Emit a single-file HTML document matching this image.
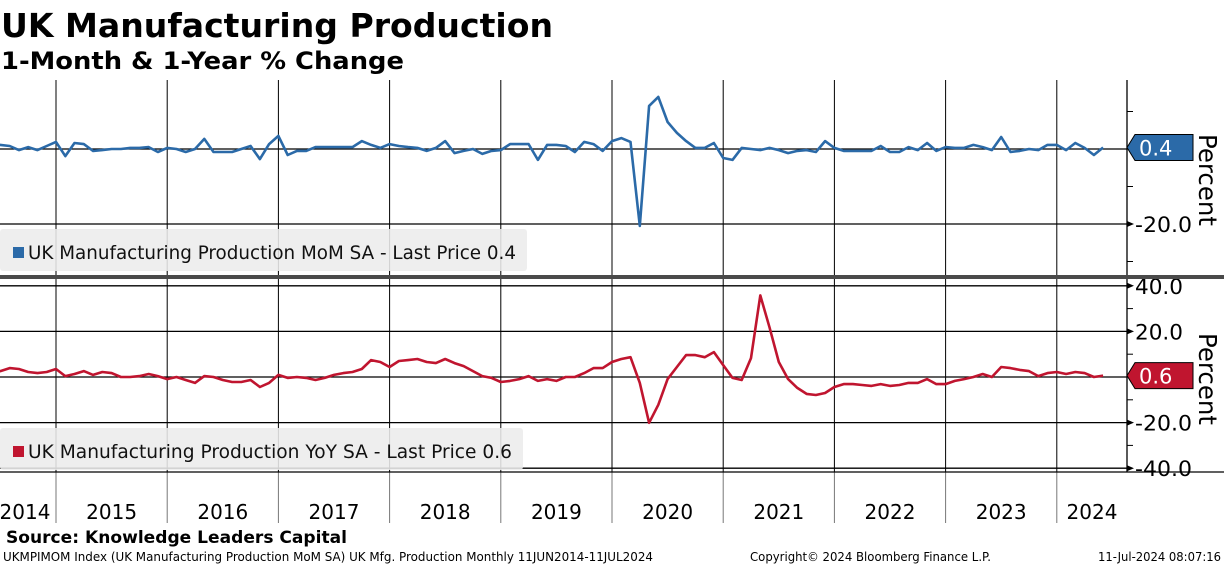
<!DOCTYPE html>
<html><head><meta charset="utf-8">
<style>
html,body{margin:0;padding:0;background:#fff;}
svg{display:block;font-family:"DejaVu Sans","Liberation Sans",sans-serif;}
</style></head>
<body>
<svg id="chart" width="1224" height="566" viewBox="0 0 1224 566" xmlns="http://www.w3.org/2000/svg">
<text x="1" y="37" font-size="33" font-weight="bold" fill="#000" textLength="552" lengthAdjust="spacingAndGlyphs">UK Manufacturing Production</text>
<text x="1" y="69" font-size="24" font-weight="bold" fill="#000" textLength="403" lengthAdjust="spacingAndGlyphs">1-Month &amp; 1-Year % Change</text>
<g id="grid"></g>
<g id="series"></g>
<g id="overlay"></g>
<text x="6" y="543" font-size="17" font-weight="bold" fill="#000" textLength="341" lengthAdjust="spacingAndGlyphs">Source: Knowledge Leaders Capital</text>
<text x="3" y="561" font-size="12" fill="#000" textLength="650" lengthAdjust="spacingAndGlyphs">UKMPIMOM Index (UK Manufacturing Production MoM SA) UK Mfg. Production  Monthly 11JUN2014-11JUL2024</text>
<text x="750" y="561" font-size="12" fill="#000" textLength="241" lengthAdjust="spacingAndGlyphs">Copyright© 2024 Bloomberg Finance L.P.</text>
<text x="1098" y="561" font-size="12" fill="#000" textLength="123" lengthAdjust="spacingAndGlyphs">11-Jul-2024 08:07:16</text>
</svg>
<script>
const years = ["2014","2015","2016","2017","2018","2019","2020","2021","2022","2023","2024"];
const startYear = 2014, startMonth = 5; // June 2014
const momValues = [1.1,1.1,0.8,-0.3,0.5,-0.3,0.8,1.9,-1.9,1.6,1.3,-0.5,-0.3,0,0,0.3,0.3,0.5,-0.8,0.3,0,-0.8,0,2.7,-0.8,-0.8,-0.8,0,0.8,-2.7,1.3,3.5,-1.6,-0.5,-0.5,0.5,0.5,0.5,0.5,0.5,2.1,1.1,0.3,1.3,0.8,0.5,0.3,-0.5,0.3,2.1,-1.1,-0.5,0,-1.3,-0.5,-0.3,1.3,1.3,1.3,-2.9,1.1,1.1,0.8,-0.8,1.9,1.3,-0.5,2.1,2.9,1.9,-20.5,11.5,13.9,7.2,4.3,2.1,0.3,0.3,1.6,-2.4,-2.9,0.3,0,-0.3,0.3,-0.3,-1.1,-0.5,-0.3,-0.8,2.1,0.3,-0.5,-0.5,-0.5,-0.5,0.8,-0.8,-0.8,0.5,-0.3,1.6,-0.5,0.5,0.3,0.3,1.1,0.5,-0.3,3.2,-0.8,-0.5,0,-0.3,1.1,1.1,-0.3,1.6,0.3,-1.6,0.4];
const yoyValues = [2.2,2.6,3.9,3.5,2.2,1.7,2.2,3.5,0.4,1.3,2.6,0.9,2.2,1.7,0,0,0.4,1.3,0.4,-0.9,0,-1.3,-2.6,0.4,0,-1.3,-2.2,-2.2,-1.3,-4.4,-2.6,0.9,-0.4,0,-0.4,-1.3,-0.4,0.9,1.7,2.2,3.5,7.4,6.6,4.4,7.0,7.4,7.9,6.6,6.1,7.9,6.1,4.8,2.6,0.4,-0.4,-2.2,-1.7,-0.9,0.4,-1.7,-0.9,-1.7,0,0,1.7,3.9,3.9,6.6,7.9,8.7,-2.6,-20.1,-12.2,-0.9,4.4,9.6,9.6,8.7,10.9,5.2,-0.4,-1.3,8.3,35.8,21.8,6.6,-0.9,-4.8,-7.4,-7.9,-7.0,-4.4,-3.1,-3.1,-3.5,-3.9,-3.1,-3.9,-3.5,-2.6,-2.6,-0.9,-3.1,-3.1,-1.7,-0.9,0,1.3,0,4.4,3.9,3.1,2.6,0.4,1.7,2.2,1.3,2.2,1.7,0,0.6];
const momTicks = [-20.0];
const yoyTicks = [40.0,20.0,-20.0,-40.0];

const NS="http://www.w3.org/2000/svg";
const grid=document.getElementById('grid'), series=document.getElementById('series'), overlay=document.getElementById('overlay');
const jan2015X=56, yearW=111.2, axisX=1127;
function xOf(i){ const m=(startYear*12+startMonth+i)-(2015*12); return jan2015X+m*yearW/12; }
function yMom(v){ return 149 - v*3.75; }
function yYoy(v){ return 377 - v*2.28; }
function mk(tag,attrs,parent){ const e=document.createElementNS(NS,tag); for(const k in attrs) e.setAttribute(k,attrs[k]); parent.appendChild(e); return e; }

const defs=mk('defs',{},document.getElementById('chart'));
const c1=mk('clipPath',{id:'c1'},defs); mk('rect',{x:0,y:80,width:axisX,height:194},c1);
const c2=mk('clipPath',{id:'c2'},defs); mk('rect',{x:0,y:280,width:axisX,height:192},c2);

for(let k=0;k<years.length-1;k++){
  const x=jan2015X+k*yearW;
  const l=mk('line',{x1:x,y1:80,x2:x,y2:472,stroke:'#000','stroke-width':1},grid);
  
  
  const t=mk('line',{x1:x,y1:472,x2:x,y2:523,stroke:'#777','stroke-width':1},grid);
  
  
}
years.forEach((y,k)=>{
  let x = k===0 ? 25 : jan2015X+(k-1)*yearW+yearW/2;
  if(k===years.length-1) x=1092;
  const t=mk('text',{x:x,y:519,'font-size':20,'text-anchor':'middle',fill:'#000'},grid);
  t.textContent=y;
  
  
});
[0,-20].forEach(v=>{
  const l=mk('line',{x1:0,y1:yMom(v),x2:axisX,y2:yMom(v),stroke:'#000','stroke-width':1.3},grid);
  
  
});
[10,-10,-30].forEach(v=>{ const l=mk('line',{x1:axisX,y1:yMom(v),x2:axisX+6,y2:yMom(v),stroke:'#000'},grid);
    });
momTicks.forEach(v=>{
  const y=yMom(v);
  const p=mk('path',{d:`M${axisX} ${y-3}L${axisX+7} ${y}L${axisX} ${y+3}Z`,fill:'#000'},grid);
   
  const t=mk('text',{x:axisX+8,y:y+8,'font-size':21,fill:'#000',textLength:57,lengthAdjust:'spacingAndGlyphs'},grid);
  t.textContent=v.toFixed(1);
   
});
[40,20,0,-20,-40].forEach(v=>{
  const l=mk('line',{x1:0,y1:yYoy(v),x2:axisX,y2:yYoy(v),stroke:'#000','stroke-width':1.3},grid);
   
});
[30,10,-10,-30].forEach(v=>{ const l=mk('line',{x1:axisX,y1:yYoy(v),x2:axisX+6,y2:yYoy(v),stroke:'#000'},grid);
    });
yoyTicks.forEach(v=>{
  const y=yYoy(v);
  const p=mk('path',{d:`M${axisX} ${y-3}L${axisX+7} ${y}L${axisX} ${y+3}Z`,fill:'#000'},grid);
   
  const s=v.toFixed(1);
  const t=mk('text',{x:axisX+8,y:y+8,'font-size':21,fill:'#000',textLength:s.length>4?57:48,lengthAdjust:'spacingAndGlyphs'},grid);
  t.textContent=s;
   
});
const ax=mk('line',{x1:axisX,y1:80,x2:axisX,y2:472,stroke:'#000','stroke-width':1.3},grid);
 
const bl=mk('line',{x1:0,y1:472,x2:1224,y2:472,stroke:'#000','stroke-width':1.3},grid);
 

function line(vals,yf,color,clip,name){
  const d=vals.map((v,i)=>(i?'L':'M')+xOf(i).toFixed(1)+' '+yf(v).toFixed(1)).join('');
  const p=mk('path',{d:d,fill:'none',stroke:color,'stroke-width':2.6,'stroke-linejoin':'round','clip-path':`url(#${clip})`},series);
  
  
}
line(momValues,yMom,'#2b6aa8','c1','mom-line');
line(yoyValues,yYoy,'#c0152f','c2','yoy-line');

const sep=mk('rect',{x:0,y:275,width:1224,height:4,fill:'#4a4a4a'},overlay);
 

function legend(y,w,color,label,name,tl){
  const g=mk('g',{},overlay);
  
  
  mk('rect',{x:0,y:y,width:w,height:42,rx:3,fill:'#ececec','fill-opacity':0.88},g);
  mk('rect',{x:13,y:y+18,width:11,height:11,fill:color},g);
  const t=mk('text',{x:28,y:y+30,'font-size':19,fill:'#111',textLength:tl,lengthAdjust:'spacingAndGlyphs'},g);
  t.textContent=label;
}
legend(229,527,'#2b6aa8','UK Manufacturing Production MoM SA - Last Price 0.4','mom-legend',488);
legend(428,523,'#c0152f','UK Manufacturing Production YoY SA - Last Price 0.6','yoy-legend',484);

function tag(yc,color,txt,name){
  const g=mk('g',{},overlay);
  
  
  mk('path',{d:`M${axisX} ${yc}L${axisX+8} ${yc-13}H1193V${yc+13}H${axisX+8}Z`,fill:color,stroke:'#000','stroke-width':1},g);
  const t=mk('text',{x:1139,y:yc+8,'font-size':21,fill:'#fff'},g);
  t.textContent=txt;
}
tag(yMom(momValues[momValues.length-1]),'#2b6aa8','0.4','mom-last-value-tag');
tag(yYoy(yoyValues[yoyValues.length-1]),'#c0152f','0.6','yoy-last-value-tag');

function pct(yc,name){
  const t=mk('text',{x:0,y:0,'font-size':25,fill:'#000','text-anchor':'middle',textLength:92,lengthAdjust:'spacingAndGlyphs',transform:`translate(1199 ${yc}) rotate(90)`},overlay);
  t.textContent='Percent';
  
  
}
pct(180,'mom-axis-title');
pct(379,'yoy-axis-title');
</script>
</body></html>
